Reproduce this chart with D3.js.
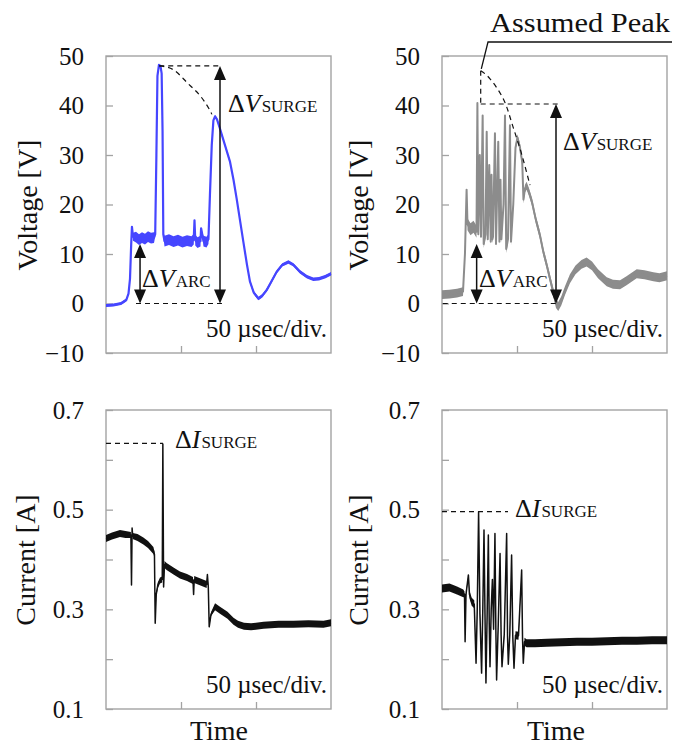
<!DOCTYPE html>
<html lang="en">
<head>
<meta charset="utf-8">
<title>Arc voltage and current waveforms</title>
<script src="https://cdn.jsdelivr.net/npm/d3@7"></script>
<style>
  body { margin: 0; background: #fff; }
  .frame { fill: none; stroke: #a3a3a3; stroke-width: 1.4; }
  .axis line { stroke: #a3a3a3; stroke-width: 1.3; }
  .axis path { display: none; }
  .dash { fill: none; stroke: #111; stroke-width: 1.2; stroke-dasharray: 5,4; }
</style>
</head>
<body>
<script>
// time axis, microseconds (50 usec/div, 3 divisions)
var timeDomain = [0, 150];
var timeTicks = [50, 100];

var voltTicks = [-10, 0, 10, 20, 30, 40, 50];
var currTicks = [0.1, 0.2, 0.3, 0.4, 0.5, 0.6, 0.7];
var currLabels = ["0.1", "", "0.3", "", "0.5", "", "0.7"];

// left voltage trace (blue): time, volts, noise half-band
var tBlue = [0, 5, 10, 13.5, 15, 16, 16.8, 17.3, 18, 20, 22, 24, 26, 28, 30, 32, 32.8, 33.6, 34.3, 35.3, 36.3, 37.1, 37.7, 38.2, 39,
             42, 45, 48, 51, 54, 57, 58.5, 59, 59.5, 61, 63, 63.4, 65, 67, 68.3, 69.3, 70.5, 71.6, 72.7, 74, 76, 79, 82.7, 85,
             87.1, 89.5, 91.6, 94, 96, 98.5, 101.6, 104, 107.1, 110, 113.8, 117.5, 121.6, 125, 129.3, 134, 138.2, 142, 146, 150];
var vBlue = [-0.4, -0.3, 0, 0.7, 2, 5, 12, 15.5, 13.5, 13.4, 12.9, 13.3, 13, 13.5, 13.2, 13.3, 14, 30, 46, 48.2, 48, 46.5, 35, 14, 12.6,
             12.9, 12.5, 12.8, 12.4, 12.7, 12.5, 13, 16.8, 12.8, 12.3, 12.6, 15.2, 12.6, 12.4, 13, 22, 32, 37, 37.8, 37.2, 35.3, 32.3, 28.6, 25,
             21.2, 16.5, 12.4, 7.8, 4.4, 2.2, 1, 1.5, 2.7, 4.3, 6.4, 7.8, 8.4, 7.8, 6.4, 5.4, 4.9, 5, 5.4, 6];
var nBlue = [0.3, 0.3, 0.3, 0.3, 0.2, 0, 0, 0, 0.8, 1.1, 1.1, 1.1, 1.1, 1.1, 1.1, 1.1, 0.5, 0, 0, 0, 0, 0, 0, 0.5, 1.1,
             1.1, 1.1, 1.1, 1.1, 1.1, 1.1, 1.1, 0, 1.1, 1.1, 1.1, 0, 1.1, 1.1, 1.0, 0, 0, 0.2, 0.3, 0.3, 0.35, 0.35, 0.35, 0.35,
             0.35, 0.35, 0.35, 0.35, 0.35, 0.35, 0.35, 0.35, 0.35, 0.35, 0.35, 0.35, 0.35, 0.35, 0.35, 0.35, 0.35, 0.35, 0.35, 0.35];

// right voltage trace (gray)
var tGray = [0, 5, 10, 14, 15.3, 15.8, 16.4, 17, 19, 21, 23, 23.6, 24.2, 25.2, 26, 27.1, 27.8, 29, 29.8, 30.5, 31.5, 32.5, 33, 33.6, 34,
             35.3, 36, 37.5, 38.3, 39, 39.6, 41, 42, 42.8, 44, 45.3, 46, 47.5, 49, 50.3, 52, 53.5, 54.3, 55.3, 56.4, 58, 60, 62.5,
             65.3, 67.5, 69.8, 72, 74, 76, 77.5, 79.5, 82, 85.3, 89, 93, 96.4, 100, 104, 109.8, 114, 118.7, 123, 129.8, 135, 140.9, 145, 150];
var vGray = [1.8, 1.9, 2.1, 2.4, 10, 16, 23, 16, 15, 15.5, 14.5, 40.5, 14, 30, 13.5, 38, 12, 14, 34.7, 13, 28, 12.5, 26, 13, 13.5,
             34.4, 12, 32.7, 12.5, 25, 13, 20, 38, 11, 13, 36, 12.5, 20, 31.5, 33.5, 31.5, 28.5, 21, 23.2, 23.8, 22.5, 20.5, 17,
             13.8, 10.5, 7.8, 5, 2.5, 0, -0.6, 0.5, 2.6, 5, 6.8, 7.9, 8.4, 7.6, 6, 4.4, 3.9, 3.8, 4.6, 6, 5.8, 5.4, 5.2, 5.6];
var nGray = [0.9, 0.9, 0.9, 0.9, 0, 0.6, 0, 1.2, 1.2, 1.2, 1.2, 0, 0.8, 0, 0.8, 0, 0.8, 0.8, 0, 0.8, 0, 0.8, 0, 0.8, 0.8,
             0, 0.8, 0, 0.8, 0, 0.8, 0, 0, 0.8, 0.8, 0, 0.8, 0.6, 0.6, 0.7, 0.8, 0.8, 0.8, 0.8, 0.8, 0.8, 0.8, 0.8,
             0.8, 0.8, 0.8, 0.8, 0.9, 0.9, 0.9, 0.9, 0.9, 0.9, 0.9, 0.9, 0.9, 0.9, 0.9, 0.9, 0.9, 0.9, 0.9, 0.9, 0.9, 0.9, 0.9, 0.9];

// left current trace (black), amperes
var tCurL = [0, 4, 9.3, 13, 16.6, 17, 17.4, 17.8, 21, 24.9, 28, 31.6, 32.3, 32.8, 33.5, 34.5, 36, 37.5, 37.9, 38.4, 39, 40.4, 45, 49.3,
             54, 58, 58.4, 58.8, 63, 67.1, 67.6, 68.2, 68.8, 70, 72.7, 76, 81, 85, 88, 92, 96.7, 105, 115, 125, 135, 145, 150];
var iCurL = [0.442, 0.447, 0.452, 0.45, 0.449, 0.349, 0.463, 0.447, 0.444, 0.437, 0.43, 0.418, 0.41, 0.272, 0.33, 0.348, 0.358, 0.36, 0.632, 0.345, 0.39, 0.386, 0.377, 0.369,
             0.364, 0.358, 0.33, 0.36, 0.355, 0.35, 0.37, 0.345, 0.265, 0.29, 0.305, 0.298, 0.288, 0.276, 0.27, 0.266, 0.265, 0.268, 0.27, 0.27, 0.271, 0.27, 0.273];
var nCurL = [0.007, 0.007, 0.007, 0.007, 0.006, 0, 0, 0.006, 0.007, 0.007, 0.007, 0.007, 0.006, 0, 0.004, 0.006, 0.006, 0.006, 0, 0, 0.007, 0.007, 0.007, 0.007,
             0.007, 0.007, 0, 0.007, 0.007, 0.007, 0, 0.006, 0, 0.004, 0.007, 0.007, 0.007, 0.007, 0.007, 0.007, 0.007, 0.007, 0.007, 0.007, 0.007, 0.007, 0.007];

// right current trace (black)
var tCurR = [0, 5, 10, 14.2, 15, 15.4, 16, 17.6, 18.3, 19.8, 21.5, 22.7, 23.5, 24.4, 25.3, 26.4, 27.2, 28, 28.7, 29.3, 30.1, 30.9, 31.5, 32, 32.8,
             33.6, 34.4, 35.3, 35.9, 36.4, 37.5, 38.7, 39.4, 40, 41.5, 43.1, 43.7, 44.2, 45.2, 46.4, 47.2, 48, 49, 51, 53.1, 53.7, 54.2, 55,
             56.4, 62, 70, 80, 90, 100, 110, 120, 130, 140, 150];
var iCurR = [0.342, 0.344, 0.338, 0.332, 0.33, 0.235, 0.33, 0.369, 0.33, 0.315, 0.31, 0.192, 0.3, 0.496, 0.29, 0.172, 0.3, 0.459, 0.28, 0.152, 0.29, 0.449, 0.27, 0.185, 0.3,
             0.36, 0.26, 0.452, 0.26, 0.158, 0.27, 0.412, 0.25, 0.185, 0.25, 0.452, 0.245, 0.19, 0.25, 0.409, 0.245, 0.182, 0.248, 0.247, 0.379, 0.24, 0.192, 0.235,
             0.232, 0.232, 0.233, 0.234, 0.235, 0.235, 0.236, 0.237, 0.237, 0.238, 0.238];
var nCurR = [0.008, 0.008, 0.008, 0.008, 0.006, 0, 0.006, 0, 0.008, 0.008, 0.008, 0, 0.006, 0, 0.006, 0, 0.006, 0, 0.006, 0, 0.006, 0, 0.006, 0, 0.006,
             0, 0.006, 0, 0.006, 0, 0.006, 0, 0.006, 0, 0.006, 0, 0.006, 0, 0.006, 0, 0.006, 0, 0.008, 0.008, 0, 0.006, 0, 0.008,
             0.008, 0.008, 0.008, 0.008, 0.008, 0.008, 0.008, 0.008, 0.008, 0.008, 0.008];

// annotation shapes, in data units
var peakCurveL = [[35.5, 48], [45, 47.2], [53.8, 44.7], [62.7, 42], [69.3, 39], [70.5, 38.2]];
var peakCurveR = [[25.8, 47], [32, 45.4], [40.9, 41.3], [46.4, 36.6], [52, 31.3], [56.4, 26.5], [58.7, 23.9]];

var w = 675, h = 746;
var svg = d3.select("body").append("svg").attr("width", w).attr("height", h);

function panel(box, domain) {
  var x = d3.scaleLinear().domain(timeDomain).range([box.left, box.right]);
  var y = d3.scaleLinear().domain(domain).range([box.bottom, box.top]);
  return {x: x, y: y, box: box};
}

var pVL = panel({left: 106, right: 331, top: 56, bottom: 353}, [-10, 50]);
var pVR = panel({left: 442, right: 667, top: 56, bottom: 353}, [-10, 50]);
var pIL = panel({left: 106, right: 331, top: 410, bottom: 709}, [0.1, 0.7]);
var pIR = panel({left: 442, right: 667, top: 410, bottom: 709}, [0.1, 0.7]);

function drawAxes(p, ticks, fmt) {
  var b = p.box;
  svg.append("g").attr("class", "axis").attr("transform", "translate(" + b.left + ",0)")
    .call(d3.axisLeft(p.y).tickValues(ticks).tickSize(-7).tickPadding(22).tickFormat(fmt))
    .attr("font-size", 25);
  svg.append("g").attr("class", "axis").attr("transform", "translate(0," + b.bottom + ")")
    .call(d3.axisBottom(p.x).tickValues(timeTicks).tickSize(-7).tickFormat(""));
  svg.append("rect").attr("class", "frame")
    .attr("x", b.left).attr("y", b.top).attr("width", b.right - b.left).attr("height", b.bottom - b.top);
  svg.append("text").attr("x", b.right - 4).attr("y", b.bottom - 16)
    .attr("text-anchor", "end").attr("font-size", 25).text("50 \u00b5sec/div.");
}

function drawTrace(p, t, v, n, color, lw) {
  var pts = t.map(function(d, i) { return {t: d, v: v[i], n: n[i]}; });
  svg.append("path").datum(pts)
    .attr("fill", color)
    .attr("d", d3.area().x(function(d) { return p.x(d.t); })
      .y0(function(d) { return p.y(d.v - d.n); }).y1(function(d) { return p.y(d.v + d.n); }));
  svg.append("path").datum(pts)
    .attr("fill", "none").attr("stroke", color).attr("stroke-width", lw).attr("stroke-linejoin", "round")
    .attr("d", d3.line().x(function(d) { return p.x(d.t); }).y(function(d) { return p.y(d.v); }));
}

function hDash(p, t0, t1, v) {
  svg.append("line").attr("class", "dash")
    .attr("x1", p.x(t0)).attr("x2", p.x(t1)).attr("y1", p.y(v)).attr("y2", p.y(v));
}

function dblArrow(p, t, v0, v1) {
  var x = p.x(t), ya = p.y(v1), yb = p.y(v0);
  svg.append("line").attr("x1", x).attr("x2", x).attr("y1", ya + 10).attr("y2", yb - 10)
    .attr("stroke", "#111").attr("stroke-width", 1.5);
  svg.append("path").attr("fill", "#111")
    .attr("d", "M" + x + "," + ya + "l-6,14h12z M" + x + "," + yb + "l-6,-14h12z");
}

function deltaLabel(x, y, sym, sub) {
  var t = svg.append("text").attr("x", x).attr("y", y).attr("font-size", 26);
  t.append("tspan").text("\u0394");
  t.append("tspan").attr("font-style", "italic").text(sym);
  t.append("tspan").attr("font-size", 17).attr("dx", 1).text(sub);
}

// axes and frames
drawAxes(pVL, voltTicks, d3.format("d"));
drawAxes(pVR, voltTicks, d3.format("d"));
drawAxes(pIL, currTicks, function(d, i) { return currLabels[i]; });
drawAxes(pIR, currTicks, function(d, i) { return currLabels[i]; });

// axis titles
[[37, 205, "Voltage [V]"], [368, 205, "Voltage [V]"], [35, 560, "Current [A]"], [368, 560, "Current [A]"]].forEach(function(a) {
  svg.append("text").attr("transform", "translate(" + a[0] + "," + a[1] + ") rotate(-90)")
    .attr("text-anchor", "middle").attr("font-size", 28).text(a[2]);
});
[[219, 740], [556, 740]].forEach(function(a) {
  svg.append("text").attr("x", a[0]).attr("y", a[1]).attr("text-anchor", "middle")
    .attr("font-size", 28).text("Time");
});

// traces
drawTrace(pVL, tBlue, vBlue, nBlue, "#4646ff", 2.2);
drawTrace(pVR, tGray, vGray, nGray, "#8c8c8c", 2);
drawTrace(pIL, tCurL, iCurL, nCurL, "#111", 1.5);
drawTrace(pIR, tCurR, iCurR, nCurR, "#111", 1.5);

// left voltage annotations
var curve = d3.line().curve(d3.curveNatural);
hDash(pVL, 35.5, 77.3, 48);
hDash(pVL, 20, 77.3, 0);
svg.append("path").attr("class", "dash")
  .attr("d", curve(peakCurveL.map(function(d) { return [pVL.x(d[0]), pVL.y(d[1])]; })));
dblArrow(pVL, 76, 0, 48);
dblArrow(pVL, 22.7, 0, 12);
deltaLabel(228, 112, "V", "SURGE");
deltaLabel(142, 287, "V", "ARC");

// right voltage annotations
hDash(pVR, 25.8, 77.5, 40.3);
hDash(pVR, 0.5, 77.5, 0);
svg.append("line").attr("class", "dash")
  .attr("x1", pVR.x(25.8)).attr("x2", pVR.x(25.8)).attr("y1", pVR.y(47)).attr("y2", pVR.y(40.3));
svg.append("path").attr("class", "dash")
  .attr("d", curve(peakCurveR.map(function(d) { return [pVR.x(d[0]), pVR.y(d[1])]; })));
dblArrow(pVR, 76, 0, 40.3);
dblArrow(pVR, 23.1, 0, 12);
deltaLabel(563, 150, "V", "SURGE");
deltaLabel(479, 287, "V", "ARC");

// assumed peak callout
svg.append("path").attr("fill", "none").attr("stroke", "#111").attr("stroke-width", 1.3)
  .attr("d", "M672,42H488L" + pVR.x(26.2) + "," + pVR.y(47.4));
svg.append("text").attr("x", 490).attr("y", 32).attr("font-size", 28)
  .attr("textLength", 180).attr("lengthAdjust", "spacingAndGlyphs").text("Assumed Peak");

// current annotations
hDash(pIL, 0, 38, 0.633);
deltaLabel(175, 448, "I", "SURGE");
hDash(pIR, 0, 44, 0.496);
deltaLabel(515, 517, "I", "SURGE");

// one serif face for every label, set on the text nodes themselves
svg.selectAll("text").attr("font-family", "Liberation Serif").attr("fill", "#111");
</script>
</body>
</html>
